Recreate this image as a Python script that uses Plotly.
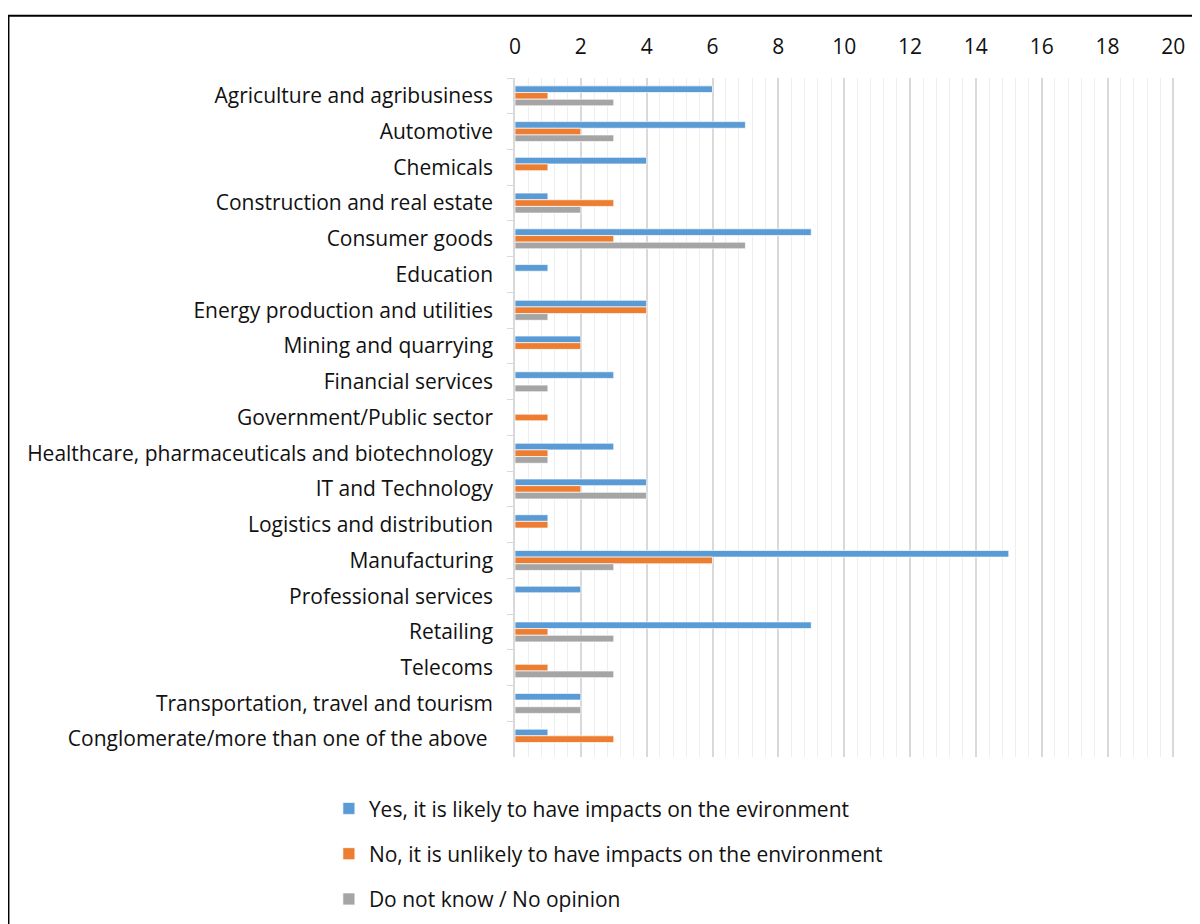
import plotly.graph_objects as go

sectors = ["Agriculture and agribusiness", "Automotive", "Chemicals", "Construction and real estate",
           "Consumer goods", "Education", "Energy production and utilities", "Mining and quarrying",
           "Financial services", "Government/Public sector", "Healthcare, pharmaceuticals and biotechnology",
           "IT and Technology", "Logistics and distribution", "Manufacturing", "Professional services",
           "Retailing", "Telecoms", "Transportation, travel and tourism", "Conglomerate/more than one of the above "]

yes_vals = [6, 7, 4, 1, 9, 1, 4, 2, 3, 0, 3, 4, 1, 15, 2, 9, 0, 2, 1]
no_vals = [1, 2, 1, 3, 3, 0, 4, 2, 0, 1, 1, 2, 1, 6, 0, 1, 1, 0, 3]
dk_vals = [3, 3, 0, 2, 7, 0, 1, 0, 1, 0, 1, 4, 0, 3, 0, 3, 3, 2, 0]

series = [
    ("Yes, it is likely to have impacts on the evironment", yes_vals, "#5B9BD5"),
    ("No, it is unlikely to have impacts on the environment", no_vals, "#ED7D31"),
    ("Do not know / No opinion", dk_vals, "#A5A5A5"),
]

font_name = "Open Sans"

fig = go.Figure()
for i, (name, vals, col) in enumerate(series):
    fig.add_trace(go.Bar(y=sectors, x=vals, name=name, orientation="h",
                         marker=dict(color=col, line=dict(color="white", width=0.7)),
                         legendgroup=str(i)))

fig.update_layout(
    width=1200, height=924,
    barmode="group", bargap=0.44, bargroupgap=0,
    plot_bgcolor="white", paper_bgcolor="white",
    margin=dict(l=507, r=33, t=70, b=175),
    font=dict(family=font_name, size=21, color="#111111"),
    legend=dict(x=-0.282, y=-0.046, xanchor="left", yanchor="top",
                traceorder="grouped", tracegroupgap=15,
                font=dict(size=21, color="#111111")),
)

fig.update_xaxes(side="top", range=[0, 20.05], tick0=0, dtick=2, showgrid=True, gridcolor="#D9D9D9", gridwidth=1.5,
                 zeroline=False, showline=False, ticks="", ticklabelstandoff=19,
                 minor=dict(tick0=0, dtick=0.4, showgrid=True, gridcolor="#EEEEEE", gridwidth=1),
                 fixedrange=True)
fig.update_yaxes(autorange="reversed", showline=True, linecolor="#D9D9D9", linewidth=1.5,
                 ticks="outside", tickson="boundaries", ticklen=6, tickcolor="#D9D9D9",
                 ticklabelstandoff=16, showgrid=False)

# frame around the chart
fig.add_shape(type="rect", xref="paper", yref="paper",
              x0=-0.7675, y0=-0.4, x1=1.2, y1=1.0916,
              line=dict(color="black", width=2))

fig.write_html("out.html")
